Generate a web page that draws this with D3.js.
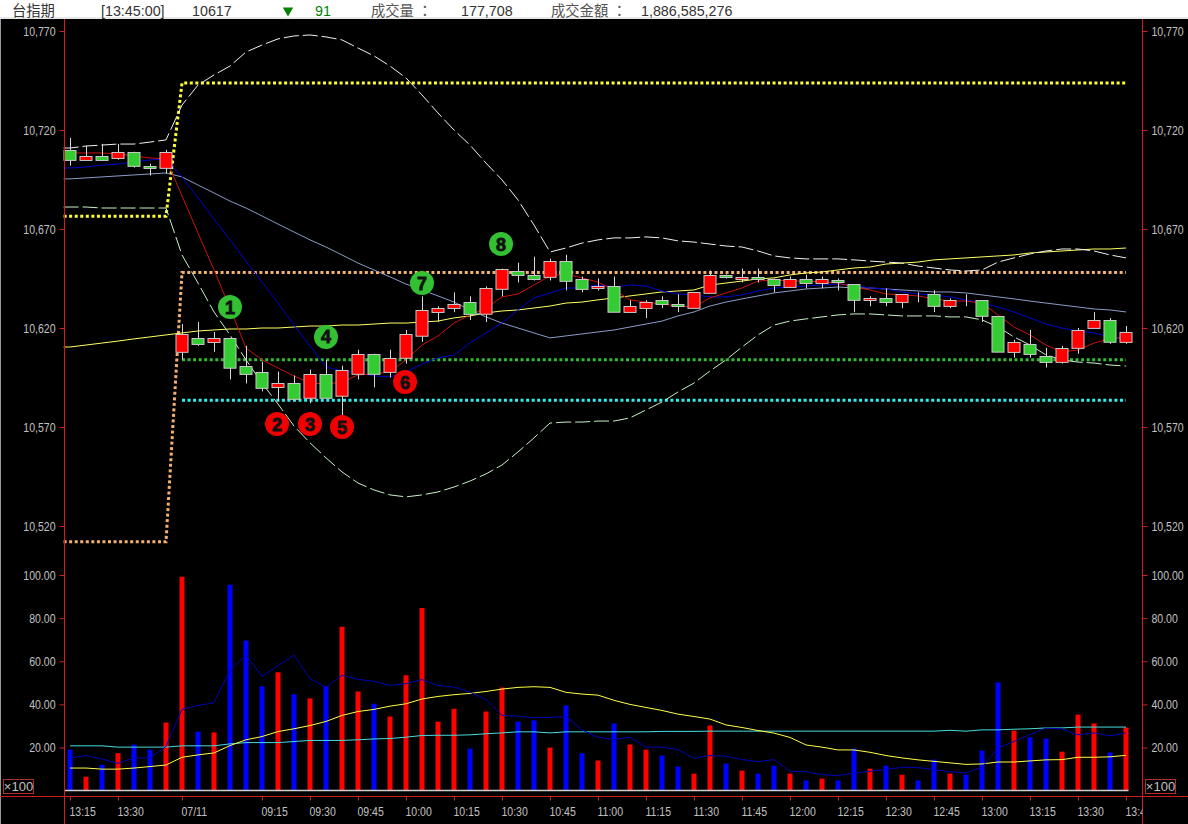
<!DOCTYPE html>
<html lang="en">
<head>
    <meta charset="UTF-8">
    <title>台指期</title>
    <script src="https://cdn.jsdelivr.net/npm/d3@7"></script>
    <style>
        body { margin: 0; background: #000; }
        svg { display: block; }
    </style>
</head>
<body>

<script>

    // candles, one per 15 minutes
    const open = [10710,10705,10707,10706,10709,10702,10701,10608,10615,10613,10615,10601,10598,10590,10592,10585,10597,10586,10597,10607,10598,10605,10616,10628,10630,10633,10627,10640,10649,10647,10646,10654,10645,10640,10641,10628,10630,10634,10632,10630,10638,10647,10645,10646,10645,10641,10645,10643,10644,10642,10634,10635,10633,10637,10637,10631,10634,10634,10626,10608,10612,10606,10603,10610,10620,10624,10613];
    const high = [10716,10712,10713,10713,10709,10703,10710,10622,10623,10618,10615,10611,10603,10598,10596,10599,10604,10601,10609,10607,10609,10619,10636,10631,10638,10636,10641,10650,10653,10656,10655,10657,10646,10645,10646,10634,10634,10636,10637,10638,10649,10647,10650,10650,10645,10646,10647,10646,10645,10642,10636,10640,10637,10638,10639,10635,10637,10634,10626,10614,10619,10610,10611,10620,10628,10625,10621];
    const low = [10702,10705,10705,10705,10701,10697,10698,10604,10611,10608,10594,10592,10588,10583,10584,10582,10585,10575,10594,10590,10595,10602,10613,10623,10628,10624,10623,10636,10643,10644,10644,10639,10638,10639,10628,10628,10625,10630,10628,10630,10638,10645,10643,10643,10638,10641,10640,10640,10639,10628,10631,10631,10630,10633,10628,10630,10631,10623,10608,10605,10605,10600,10602,10607,10620,10612,10612];
    const close = [10705,10707,10705,10709,10702,10701,10709,10617,10612,10615,10600,10597,10590,10592,10584,10597,10585,10599,10607,10597,10605,10617,10629,10630,10632,10627,10640,10650,10647,10645,10654,10644,10640,10641,10628,10631,10633,10632,10631,10638,10647,10646,10646,10645,10642,10645,10643,10645,10643,10634,10635,10633,10637,10637,10631,10634,10634,10626,10608,10613,10607,10603,10610,10619,10624,10613,10618];

    // price overlays
    const maFast = [10708.4,10708.4,10708.4,10707.9,10706.9,10705.9,10705.4,10686.7,10668,10649.3,10630.1,10609.9,10603.9,10599.8,10595.8,10592.2,10591.7,10592.7,10596.3,10596.8,10597.8,10603.9,10611.4,10616,10622.5,10626.6,10630.1,10635.7,10637.2,10641.7,10646.3,10647.3,10645.3,10643.2,10639.2,10634.2,10633.1,10632.1,10631.1,10630.6,10635.2,10637.7,10640.2,10643.7,10644.3,10643.7,10643.7,10643.2,10642.7,10640.7,10639.2,10637.2,10636.7,10636.2,10634.7,10633.6,10633.6,10632.6,10626.6,10620.5,10616.5,10611.4,10607.9,10608.9,10612.4,10614.5,10615.5];
    const maMid = [10700.8,10701.3,10702.3,10702.8,10703.8,10704.9,10705.4,10696.3,10685.7,10675.1,10664.5,10653.8,10643.2,10632.6,10621.5,10610.9,10600.3,10598.3,10597.3,10595.8,10595.3,10597.8,10601.8,10604.9,10606.4,10612.4,10617.5,10622.5,10629.1,10635.2,10637.7,10640.2,10640.2,10641.7,10640.7,10641.7,10641.2,10638.7,10637.2,10636.7,10635.7,10635.7,10636.7,10638.7,10640.2,10640.7,10641.2,10641.7,10642.2,10641.7,10640.2,10639.7,10638.2,10637.2,10636.7,10635.7,10634.2,10632.6,10630.6,10628.1,10625.1,10622,10620,10618.5,10617.5,10615.5,10614.5];
    const maSlow = [10695.3,10695.8,10696.3,10696.8,10697.3,10697.8,10698.3,10696.3,10692.2,10688.2,10684.1,10680.6,10676.6,10672.5,10668.5,10664.5,10660.9,10656.9,10652.8,10649.3,10645.8,10642.2,10639.2,10636.2,10633.1,10629.1,10625.6,10622.5,10620,10617.5,10615,10616,10617,10618,10619,10620.5,10622,10623.5,10626.1,10628.1,10631.1,10633.1,10634.7,10636.2,10637.7,10638.7,10639.7,10640.2,10640.7,10640.2,10640.2,10639.7,10639.2,10638.7,10638.2,10638.2,10637.7,10636.7,10635.7,10634.7,10633.6,10632.6,10631.6,10630.6,10629.6,10629.1,10628.1];
    const maLong = [10610.4,10611.4,10612.4,10613.4,10614.5,10615.5,10616.5,10617.5,10618.5,10619,10619.5,10619.5,10620,10620,10620.5,10621,10621,10621.5,10621.5,10622,10622.5,10622.5,10623,10623.5,10625.1,10626.1,10627.6,10628.6,10629.1,10630.1,10631.1,10632.6,10633.1,10634.2,10635.2,10636.2,10637.2,10638.2,10638.7,10639.2,10641.7,10642.7,10643.7,10644.8,10645.3,10646.8,10647.8,10648.3,10649.3,10650.3,10650.8,10652.3,10652.8,10653.3,10654.4,10654.9,10655.4,10655.9,10656.4,10656.9,10657.9,10658.4,10658.9,10659.4,10659.9,10659.9,10660.4];
    const bandUpper = [10710.9,10711.9,10712.4,10712.9,10712.9,10713.9,10715,10732.6,10742.7,10747.8,10752.3,10759.4,10762.9,10766,10767.5,10768,10767,10765.5,10761.4,10757.4,10752.3,10746.3,10737.7,10728.6,10720,10712.4,10703.3,10694.8,10684.7,10672,10658.4,10660.4,10662.9,10664.5,10665.5,10665.5,10666,10665.5,10664,10663.4,10662.4,10661.4,10660.9,10658.9,10656.4,10655.4,10654.9,10654.9,10654.9,10654.4,10653.8,10653.3,10652.8,10651.3,10650.3,10649.3,10648.8,10649.3,10653.3,10655.4,10657.4,10658.9,10659.9,10659.9,10658.9,10656.9,10655.4];
    const bandLower = [10681.1,10681.1,10680.6,10680.6,10680.6,10680.6,10680.6,10656.9,10642.7,10628.1,10616.5,10603.9,10592.2,10581.6,10570.5,10562,10554.4,10547.3,10541.7,10538.2,10535.7,10534.7,10535.7,10537.2,10539.7,10542.7,10546.3,10550.8,10557.4,10564.5,10572,10572.5,10572.5,10573,10573,10574.6,10578.6,10582.6,10587.7,10592.2,10598.3,10603.9,10610.4,10616.5,10621.5,10623.5,10624.6,10625.6,10626.6,10627.1,10627.1,10626.6,10626.1,10626.1,10626.1,10625.6,10625.6,10624.1,10620.5,10615.5,10611.4,10606.4,10603.9,10602.8,10602.3,10601.3,10600.8];

    // dotted levels, index and price
    const stepIndex = [-0.4, 6, 7, 66];
    const levelIndex = [7, 66];
    const levelYellow = [10676.5, 10676.5, 10743.7, 10743.7];
    const levelOrange = [10512, 10512, 10648, 10648];
    const levelGreen = [10604, 10604];
    const levelCyan = [10583.5, 10583.5];

    // volume (x100)
    const volume = [19,6.5,12,17.4,21.4,19,31.6,99.2,27.4,27,95.5,69.6,48.4,54.9,44.7,42.8,48.4,76,46,40.3,34.4,53.5,84.7,32,38,19.5,36.7,47.8,32,32.6,20,39.5,17.4,14,31.2,21.4,19,16.3,11.2,7.9,30.2,12.6,9.3,7.9,11.6,7.9,4.7,5.6,4.7,19.5,10.2,11.6,7.4,4.7,14.4,7.9,7.4,18.6,50.2,27.9,24.7,24.2,18.1,35.3,31.2,17.7,29.3];
    const volFast = [15.2,16.3,14.7,12.7,15.2,15.2,20.5,37.7,39.5,40.8,55.8,62.8,53,58,62.8,52,48,53.5,51.6,50.7,48.8,49.6,51.5,48.8,48,45.7,42.3,34.9,34.6,33.8,34,34.4,28.2,24.8,23.7,24.8,20.2,20.2,19,15,16.3,16,14.4,13.5,14.4,9,8.8,7.4,7,8.2,9,9.8,10.9,10.7,9.8,8.8,8.2,10.9,19.8,22.8,26,29,28.7,25.9,26.8,25.4,26.8];
    const volMid = [10.5,10.5,10,10,10.5,11.2,11.9,15.5,16.6,17.5,20.9,23.6,25.1,27.4,28.7,30.2,32.1,34.9,36.7,37.7,39.2,40.3,42.5,43.7,44.5,45.1,46,47.1,47.9,48.2,47.9,45.6,44.8,44.3,41.9,40,38.6,37.2,35.5,34.4,33.2,30.5,29.3,27.9,26.7,24.7,21.2,20.2,18.9,18.9,17.8,16.3,15.2,14.3,13.6,12.9,12.2,12.4,13.3,13.3,13.8,14.3,14.4,15.5,15.5,15.7,16.4];
    const volSlow = [20.8,20.8,20.8,20.2,20.2,20.2,20.2,20.8,20.8,20.8,21.7,22.3,22.3,22.3,22.8,23.3,23.3,23.3,23.6,24,24.2,24.8,25.6,25.7,25.7,25.9,26.4,26.8,27.3,27.3,26.8,27.3,27.3,27.3,27.3,27.3,27.3,27.5,27.5,27.5,27.6,27.6,27.6,27.6,27.6,27.6,27.6,27.6,27.6,27.6,27.6,27.6,27.6,27.6,27.6,28,27.6,28.2,28.2,28.5,28.7,29.1,29.1,29.5,29.5,29.5,29.5];

    // axes
    const priceTicks = [10520, 10570, 10620, 10670, 10720, 10770];
    const volumeTicks = [20, 40, 60, 80, 100];
    const timeIndex = [0, 3, 7, 12, 15, 18, 21, 24, 27, 30, 33, 36, 39, 42, 45, 48, 51, 54, 57, 60, 63, 66];
    const timeLabels = ["13:15", "13:30", "07/11", "09:15", "09:30", "09:45", "10:00", "10:15", "10:30", "10:45", "11:00", "11:15", "11:30", "11:45", "12:00", "12:15", "12:30", "12:45", "13:00", "13:15", "13:30", "13:45"];

    // numbered signals on the chart
    const signalLabels = ["1", "2", "3", "4", "5", "6", "7", "8"];
    const signalIndex = [10, 12.94, 15, 16, 17, 20.94, 22, 26.94];
    const signalPrice = [10630.6, 10571.5, 10571.5, 10615.5, 10570, 10592.7, 10642.7, 10662.4];
    const signalUp = [false, true, true, false, true, true, false, false];

    // header strip
    const headerLabels = ["台指期", "[13:45:00]", "10617", "91", "成交量 ：", "177,708", "成交金額 ：", "1,886,585,276"];
    const headerColors = ["#333", "#333", "#333", "#008000", "#555", "#333", "#555", "#333"];
    const headerX = [12, 101, 192, 315, 371, 461, 551, 641];

    const width = 1188;
    const height = 824;
    const left_x = 64.5;
    const right_x = 1142.5;
    const bottom_y = 796.5;
    const top_y = 19;

    const x = d3.scaleLinear().domain([0, 66]).range([70, 1126]);
    const y = d3.scaleLinear().domain([10520, 10770]).range([526, 31]);
    const yv = d3.scaleLinear().domain([0, 100]).range([790.7, 575]);

    const svg = d3.select("body").append("svg").attr("width", width).attr("height", height);

    svg.append("rect").attr("width", width).attr("height", height).attr("fill", "#000");
    svg.append("rect").attr("width", width).attr("height", top_y).attr("fill", "#fff");
    svg.append("rect").attr("y", top_y - 2).attr("width", width).attr("height", 2).attr("fill", "#e8e8e8");
    svg.append("rect").attr("y", top_y).attr("width", 1).attr("height", height).attr("fill", "#999");

    svg.append("clipPath").attr("id", "inner")
        .append("rect").attr("x", 0).attr("y", 0).attr("width", right_x).attr("height", height);

    // header
    svg.append("g").selectAll("text")
        .data(headerLabels)
        .join("text")
        .attr("x", (d, i) => headerX[i])
        .attr("y", 16)
        .attr("font-family", "'Liberation Sans','Noto Sans CJK TC',sans-serif")
        .attr("font-size", 14.3)
        .attr("fill", (d, i) => headerColors[i])
        .text(d => d);

    svg.append("path")
        .attr("d", d3.symbol(d3.symbolTriangle).size(46))
        .attr("transform", "translate(288,10.5) rotate(180)")
        .attr("fill", "#008000");

    const price_line = d3.line().x(d => x(d[0])).y(d => y(d[1]));
    const vol_line = d3.line().x((d, i) => x(i)).y(d => yv(d));
    // the overlays start at the axis, a little left of the first candle
    const lead = vals => [[-0.4, vals[0]], ...vals.map((v, i) => [i, v])];

    // dotted levels
    const levels = [
        [stepIndex, levelYellow, "#ffff33"],
        [stepIndex, levelOrange, "#f4b070"],
        [levelIndex, levelGreen, "#33bb33"],
        [levelIndex, levelCyan, "#33eeee"]
    ];
    svg.append("g").selectAll("path")
        .data(levels)
        .join("path")
        .attr("d", d => price_line(d[0].map((v, i) => [v, d[1][i]])))
        .attr("fill", "none")
        .attr("stroke", d => d[2])
        .attr("stroke-width", 3)
        .attr("stroke-dasharray", "3 2.55");

    // price overlays
    const overlays = [
        [maLong, "#ffff66", null],
        [maSlow, "#8c9cc8", null],
        [maMid, "#0000d0", null],
        [maFast, "#cc1111", null],
        [bandUpper, "#f0f0f0", "15 4"],
        [bandLower, "#c8f0c8", "15 4"]
    ];
    svg.append("g").selectAll("path")
        .data(overlays)
        .join("path")
        .attr("d", d => price_line(lead(d[0])))
        .attr("fill", "none")
        .attr("stroke", d => d[1])
        .attr("stroke-width", 1)
        .attr("stroke-dasharray", d => d[2]);

    // candles
    const candle = svg.append("g").selectAll("g")
        .data(open)
        .join("g");

    candle.append("line")
        .attr("x1", (d, i) => Math.round(x(i)) + 0.5)
        .attr("x2", (d, i) => Math.round(x(i)) + 0.5)
        .attr("y1", (d, i) => y(high[i]))
        .attr("y2", (d, i) => y(low[i]))
        .attr("stroke", "#d8d8d8");

    candle.append("rect")
        .attr("x", (d, i) => x(i) - 6)
        .attr("width", 12)
        .attr("y", (d, i) => Math.round(y(Math.max(open[i], close[i]))) + 0.5)
        .attr("height", (d, i) => Math.abs(y(open[i]) - y(close[i])))
        .attr("fill", (d, i) => close[i] > open[i] ? "#ff0000" : "#33cc33")
        .attr("stroke", "#c8c8c8");

    // volume
    svg.append("g").selectAll("rect")
        .data(volume)
        .join("rect")
        .attr("x", (d, i) => x(i) - 2.5)
        .attr("width", 5)
        .attr("y", d => yv(d))
        .attr("height", d => yv(0) - yv(d))
        .attr("fill", (d, i) => close[i] > open[i] ? "#ff0000" : "#0000ff");

    svg.append("line")
        .attr("x1", left_x).attr("x2", x(66) + 2.5)
        .attr("y1", 790.5).attr("y2", 790.5)
        .attr("stroke", "#cfcfcf")
        .attr("stroke-width", 1.5);

    const vol_overlays = [[volSlow, "#44dddd"], [volMid, "#ffff44"], [volFast, "#0000b8"]];
    svg.append("g").selectAll("path")
        .data(vol_overlays)
        .join("path")
        .attr("d", d => vol_line(d[0]))
        .attr("fill", "none")
        .attr("stroke", d => d[1])
        .attr("stroke-width", 1);

    // axis lines
    svg.append("g").attr("stroke", "#cc2020").selectAll("line")
        .data([[left_x, top_y, left_x, height], [right_x, top_y, right_x, height], [0, bottom_y, width, bottom_y]])
        .join("line")
        .attr("x1", d => d[0]).attr("y1", d => d[1])
        .attr("x2", d => d[2]).attr("y2", d => d[3]);

    const style_axis = g => {
        g.select(".domain").remove();
        g.selectAll("line").attr("stroke", "#cc2020");
        g.selectAll("text")
            .attr("fill", "#c0c0c0")
            .attr("font-family", "'Liberation Sans',sans-serif")
            .attr("font-size", 13);
    };

    const axes = [
        d3.axisLeft(y).tickValues(priceTicks).tickFormat(d3.format(",")),
        d3.axisLeft(yv).tickValues(volumeTicks).tickFormat(d3.format(".2f"))
    ];
    axes.forEach(a => svg.append("g").attr("class", "ticks")
        .attr("transform", `translate(${left_x},0)`)
        .call(a.tickSize(5).tickPadding(4)).call(style_axis));

    const axes_right = [
        d3.axisRight(y).tickValues(priceTicks).tickFormat(d3.format(",")),
        d3.axisRight(yv).tickValues(volumeTicks).tickFormat(d3.format(".2f"))
    ];
    axes_right.forEach(a => svg.append("g").attr("class", "ticks")
        .attr("transform", `translate(${right_x},0)`)
        .call(a.tickSize(5).tickPadding(4)).call(style_axis));

    const time_axis = svg.append("g").attr("class", "ticks")
        .attr("clip-path", "url(#inner)")
        .attr("transform", `translate(0,${bottom_y})`)
        .call(d3.axisBottom(x).tickValues(timeIndex)
            .tickFormat((d, i) => timeLabels[i]).tickSize(4).tickPadding(6))
        .call(style_axis);
    time_axis.selectAll("text").attr("text-anchor", "start").attr("x", -1);

    // x100 boxes
    const unit = svg.append("g").selectAll("g")
        .data([3, 1145])
        .join("g")
        .attr("transform", d => `translate(${d + 0.5},779.5)`);
    unit.append("rect").attr("width", 30).attr("height", 14)
        .attr("fill", "none").attr("stroke", "#b03030");
    unit.append("text").attr("x", 15).attr("y", 11.5)
        .attr("text-anchor", "middle")
        .attr("font-family", "'Liberation Sans',sans-serif").attr("font-size", 13)
        .attr("fill", "#c0c0c0").text("×100");

    // tall, narrow tick lettering
    svg.selectAll(".ticks text").each(function () {
        const t = d3.select(this);
        const tx = +t.attr("x") || 0;
        t.attr("x", 0).attr("transform", `translate(${tx},0) scale(0.81,1)`);
    });

    // signals
    const signal = svg.append("g").selectAll("g")
        .data(signalLabels)
        .join("g")
        .attr("transform", (d, i) => `translate(${x(signalIndex[i])},${y(signalPrice[i])})`);
    signal.append("circle").attr("r", 12)
        .attr("fill", (d, i) => signalUp[i] ? "#f00000" : "#33c033");
    signal.append("text")
        .attr("y", 6.5)
        .attr("text-anchor", "middle")
        .attr("font-family", "'Liberation Sans',sans-serif")
        .attr("font-weight", "bold")
        .attr("font-size", 18)
        .attr("fill", "#111")
        .attr("stroke", "#111")
        .attr("stroke-width", 0.8)
        .text(d => d);

</script>

</body>
</html>
